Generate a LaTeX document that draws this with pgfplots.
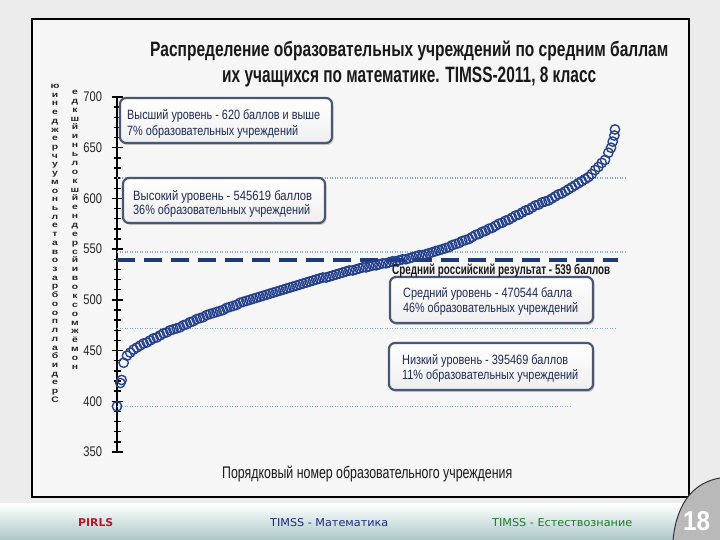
\documentclass[border=0pt]{standalone}
\usepackage{pgfplots}
\pgfplotsset{compat=1.18}
\usepackage{pgfplotstable}
\usepackage{graphicx}
\usepackage{fontspec}
\setmainfont{Liberation Sans}
\newfontfamily\narrowfont[FakeStretch=0.8]{Liberation Sans}
\newfontfamily\stackfont[FakeStretch=1.3]{Liberation Sans}
\newfontfamily\uifont{DejaVu Sans}
\usetikzlibrary{shadows}

\definecolor{pagebg}{HTML}{ECECEC}
\definecolor{panelbg}{HTML}{F6F6F6}
\definecolor{navy}{HTML}{243F8C}
\definecolor{dashnavy}{HTML}{1E3A78}
\definecolor{dotblue}{HTML}{7FA8D6}
\definecolor{boxedge}{HTML}{4A5674}
\definecolor{boxtext}{HTML}{1E2A55}
\definecolor{pirlsred}{HTML}{C0142A}
\definecolor{mathblue}{HTML}{1C2A80}
\definecolor{scigreen}{HTML}{1A7A2A}

% school scores, sorted (index, mean score)
\pgfplotstableread{
x y
0 395
1 418
1.4 421
2 438
3 445
4 448
5 451
6 453
7 455
8 457
9 458
10 460
11 462
12 463
13 465
14 467
15 468
16 470
17 471
18 472
19 473
20 475
21 476
22 478
23 479
24 481
25 482
26 483
27 485
28 486
29 487
30 488
31 489
32 490
33 492
34 493
35 494
36 495
37 497
38 498
39 499
40 500
41 501
42 502
43 503
44 504
45 505
46 506
47 507
48 508
49 509
50 510
51 511
52 512
53 513
54 514
55 515
56 516
57 517
58 518
59 519
60 520
61 521
62 522
63 522
64 523
65 524
66 525
67 526
68 527
69 528
70 529
71 529
72 530
73 531
74 532
75 532
76 533
77 534
78 534
79 535
80 536
81 536
82 537
83 538
84 538
85 539
86 540
87 540
88 541
89 542
90 543
91 544
92 544
93 545
94 546
95 547
96 548
97 549
98 550
99 551
100 552
101 554
102 555
103 556
104 558
105 559
106 560
107 562
108 564
109 565
110 567
111 568
112 570
113 571
114 573
115 575
116 576
117 578
118 579
119 581
120 583
121 584
122 586
123 588
124 589
125 591
126 593
127 594
128 596
129 597
130 598
131 600
132 602
133 604
134 605
135 607
136 609
137 611
138 613
139 615
140 617
141 619
142 621
143 624
144 628
145 631
146 635
147 638
148 645
148.8 650
149.3 656
149.8 662
150 668
}\scores

\newcommand{\T}[5]{\node[anchor=base west,inner sep=0pt] at (#1,540-#2) {\resizebox{#3bp}{#4bp}{#5}};}

\begin{document}
\begin{tikzpicture}[x=1bp,y=1bp]
\useasboundingbox (0,0) rectangle (720,540);
\fill[pagebg] (0,0) rectangle (720,540);
\fill[panelbg] (32,43) rectangle (689,521);
\draw[black,line width=1.5bp] (32,43) rectangle (689,521);

\begin{axis}[
    at={(117bp,88bp)}, anchor=south west,
    scale only axis, width=498bp, height=355bp,
    xmin=0, xmax=150, ymin=350, ymax=700,
    clip=false,
    hide x axis,
    axis y line*=left,
    y axis line style={-, line width=2.2bp, black},
    ytick={350,400,...,700},
    minor y tick num=4,
    tick align=center,
    major tick length=11bp,
    minor tick length=7bp,
    every tick/.style={black, line width=1.5bp},
    /pgf/number format/assume math mode=true,
    yticklabel style={font=\narrowfont\fontsize{14}{14}\selectfont, text=black!85, xshift=-6bp},
]
\addplot[dotblue, line width=1.4bp, dash pattern=on 1.2bp off 1.3bp] coordinates {(0,620) (153,620)};
\addplot[dotblue, line width=1.4bp, dash pattern=on 1.2bp off 1.3bp] coordinates {(0,547) (153,547)};
\addplot[dotblue, line width=1.4bp, dash pattern=on 1.2bp off 1.3bp] coordinates {(0,472) (150,472)};
\addplot[dotblue, line width=1.4bp, dash pattern=on 1.2bp off 1.3bp] coordinates {(0,395) (137,395)};
\addplot[only marks, mark=o, mark size=4.7bp, mark options={draw=navy, line width=1.35bp}] table[x=x,y=y] {\scores};
\addplot[dashnavy, line width=4bp, dash pattern=on 18bp off 9bp] coordinates {(0,539) (151,539)};
\end{axis}

% stacked y-axis caption
\node[anchor=north, inner sep=0pt, align=center, text=black!85,
      font=\stackfont\bfseries\fontsize{8}{8.75}\selectfont] at (55,540-84)
 {ю\\и\\н\\е\\д\\ж\\е\\р\\ч\\у\\у\\м\\о\\н\\ь\\л\\е\\т\\а\\в\\о\\з\\а\\р\\б\\о\\о\\п\\л\\л\\а\\б\\и\\д\\е\\р\\С};
\node[anchor=north, inner sep=0pt, align=center, text=black!85,
      font=\stackfont\bfseries\fontsize{8}{8.9}\selectfont] at (75,540-90)
 {е\\д\\к\\ш\\й\\и\\н\\ь\\л\\о\\к\\ш\\й\\е\\н\\д\\е\\р\\с\\й\\и\\в\\о\\к\\с\\о\\м\\ж\\ё\\м\\о\\н};

% title
\T{150}{57}{518}{15.5}{\bfseries\color{black!90}Распределение образовательных учреждений по средним баллам}
\T{222}{83}{374}{15.5}{\bfseries\color{black!90}их учащихся по математике. TIMSS-2011, 8 класс}

% level boxes
\tikzset{lvl/.style={rounded corners=6bp, draw=boxedge, line width=2.2bp,
  top color=white, bottom color=blue!6!gray!12, drop shadow={opacity=0.35, shadow xshift=1.5bp, shadow yshift=-2bp}}}
\draw[lvl] (120,540-98) rectangle (332,540-143);
\draw[lvl] (123,540-178) rectangle (325,540-223);
\draw[lvl] (390,540-277) rectangle (593,540-323);
\draw[lvl] (389,540-343) rectangle (593,540-390);

\T{127}{120}{193}{10}{\color{boxtext}Высший уровень - 620 баллов и выше}
\T{127}{136}{171}{10}{\color{boxtext}7\% образовательных учреждений}
\T{133}{201}{179}{10}{\color{boxtext}Высокий уровень - 545619 баллов}
\T{133}{215}{177}{10}{\color{boxtext}36\% образовательных учреждений}
\T{403}{298}{169}{10}{\color{boxtext}Средний уровень - 470544 балла}
\T{403}{313}{175}{10}{\color{boxtext}46\% образовательных учреждений}
\T{402}{365}{166}{10}{\color{boxtext}Низкий уровень - 395469 баллов}
\T{402}{380}{176}{10}{\color{boxtext}11\% образовательных учреждений}

\T{392}{275}{218}{10.5}{\bfseries\color{black!90}Средний российский результат - 539 баллов}

% x caption
\T{222}{479}{290}{12.5}{\color{black!90}Порядковый номер образовательного учреждения}

% footer
\shade[top color=white, middle color=cyan!10!blue!8!white, bottom color=cyan!20!gray!55] (0,0) rectangle (720,36);
\T{78}{527}{35}{8}{\uifont\bfseries\color{pirlsred}PIRLS}
\T{270}{527}{118}{8}{\uifont\color{mathblue}TIMSS - Математика}
\T{492}{527}{140}{8}{\uifont\color{scigreen}TIMSS - Естествознание}
\fill[gray!55] (720,62) .. controls (696,58) and (677,40) .. (673,0) -- (720,0) -- cycle;
\draw[black!80, line width=1bp] (720,62) .. controls (696,58) and (677,40) .. (673,0);
\T{683}{531}{27}{19}{\bfseries\color{white}18}
\end{tikzpicture}
\end{document}
